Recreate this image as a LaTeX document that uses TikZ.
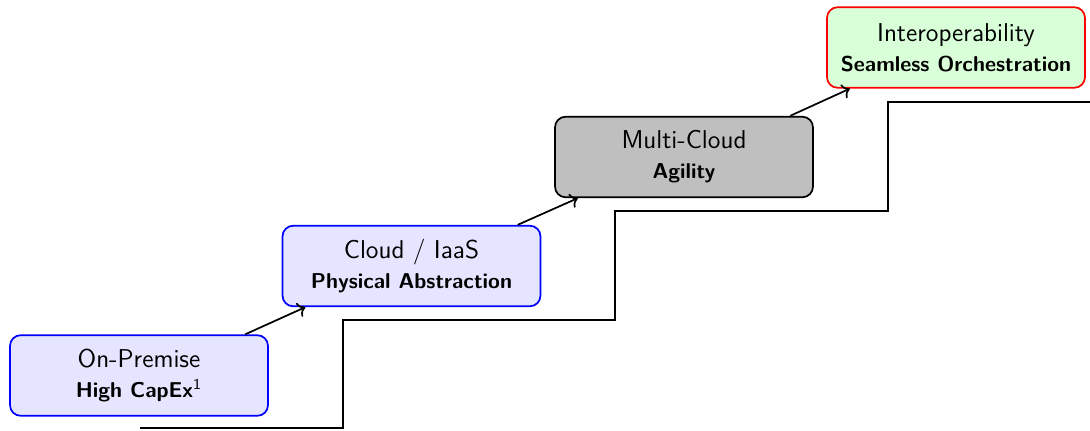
\documentclass[tikz,border=0pt]{standalone}
\usetikzlibrary{arrows.meta,calc}
\usepackage{xcolor}

\begin{document}
\begin{tikzpicture}[x=0.4651pt,y=0.4651pt,
  stage/.style={draw,thick,rounded corners=5pt,align=center,
    minimum width=120pt,minimum height=37.5pt,font=\sffamily}]
  \useasboundingbox (0,0) rectangle (1090,430);
  % the stairs
  \draw[thick] (140,2) -| (343,110) -| (615,219) -| (888,328) -- (1090,328);
  \node[stage,draw=blue,fill=blue!10] (prem) at (139,54.5){{\large On-Premise}\\[2pt]\textbf{High CapEx}\textsuperscript{1}};
  \node[stage,draw=blue,fill=blue!10] (iaas) at (411.5,164){{\large Cloud / IaaS}\\[2pt]\textbf{Physical Abstraction}};
  \node[stage,draw=black,fill=gray!50] (multi) at (684,273){{\large Multi-Cloud}\\[2pt]\textbf{Agility}};
  \node[stage,draw=red,fill=green!15] (inter) at (956,382.5){{\large Interoperability}\\[2pt]\textbf{Seamless Orchestration}};
  \draw[thick,->] ([xshift=-11pt]prem.north east) -- ([xshift=11pt]iaas.south west);
  \draw[thick,->] ([xshift=-11pt]iaas.north east) -- ([xshift=11pt]multi.south west);
  \draw[thick,->] ([xshift=-11pt]multi.north east) -- ([xshift=11pt]inter.south west);
\end{tikzpicture}
\end{document}
